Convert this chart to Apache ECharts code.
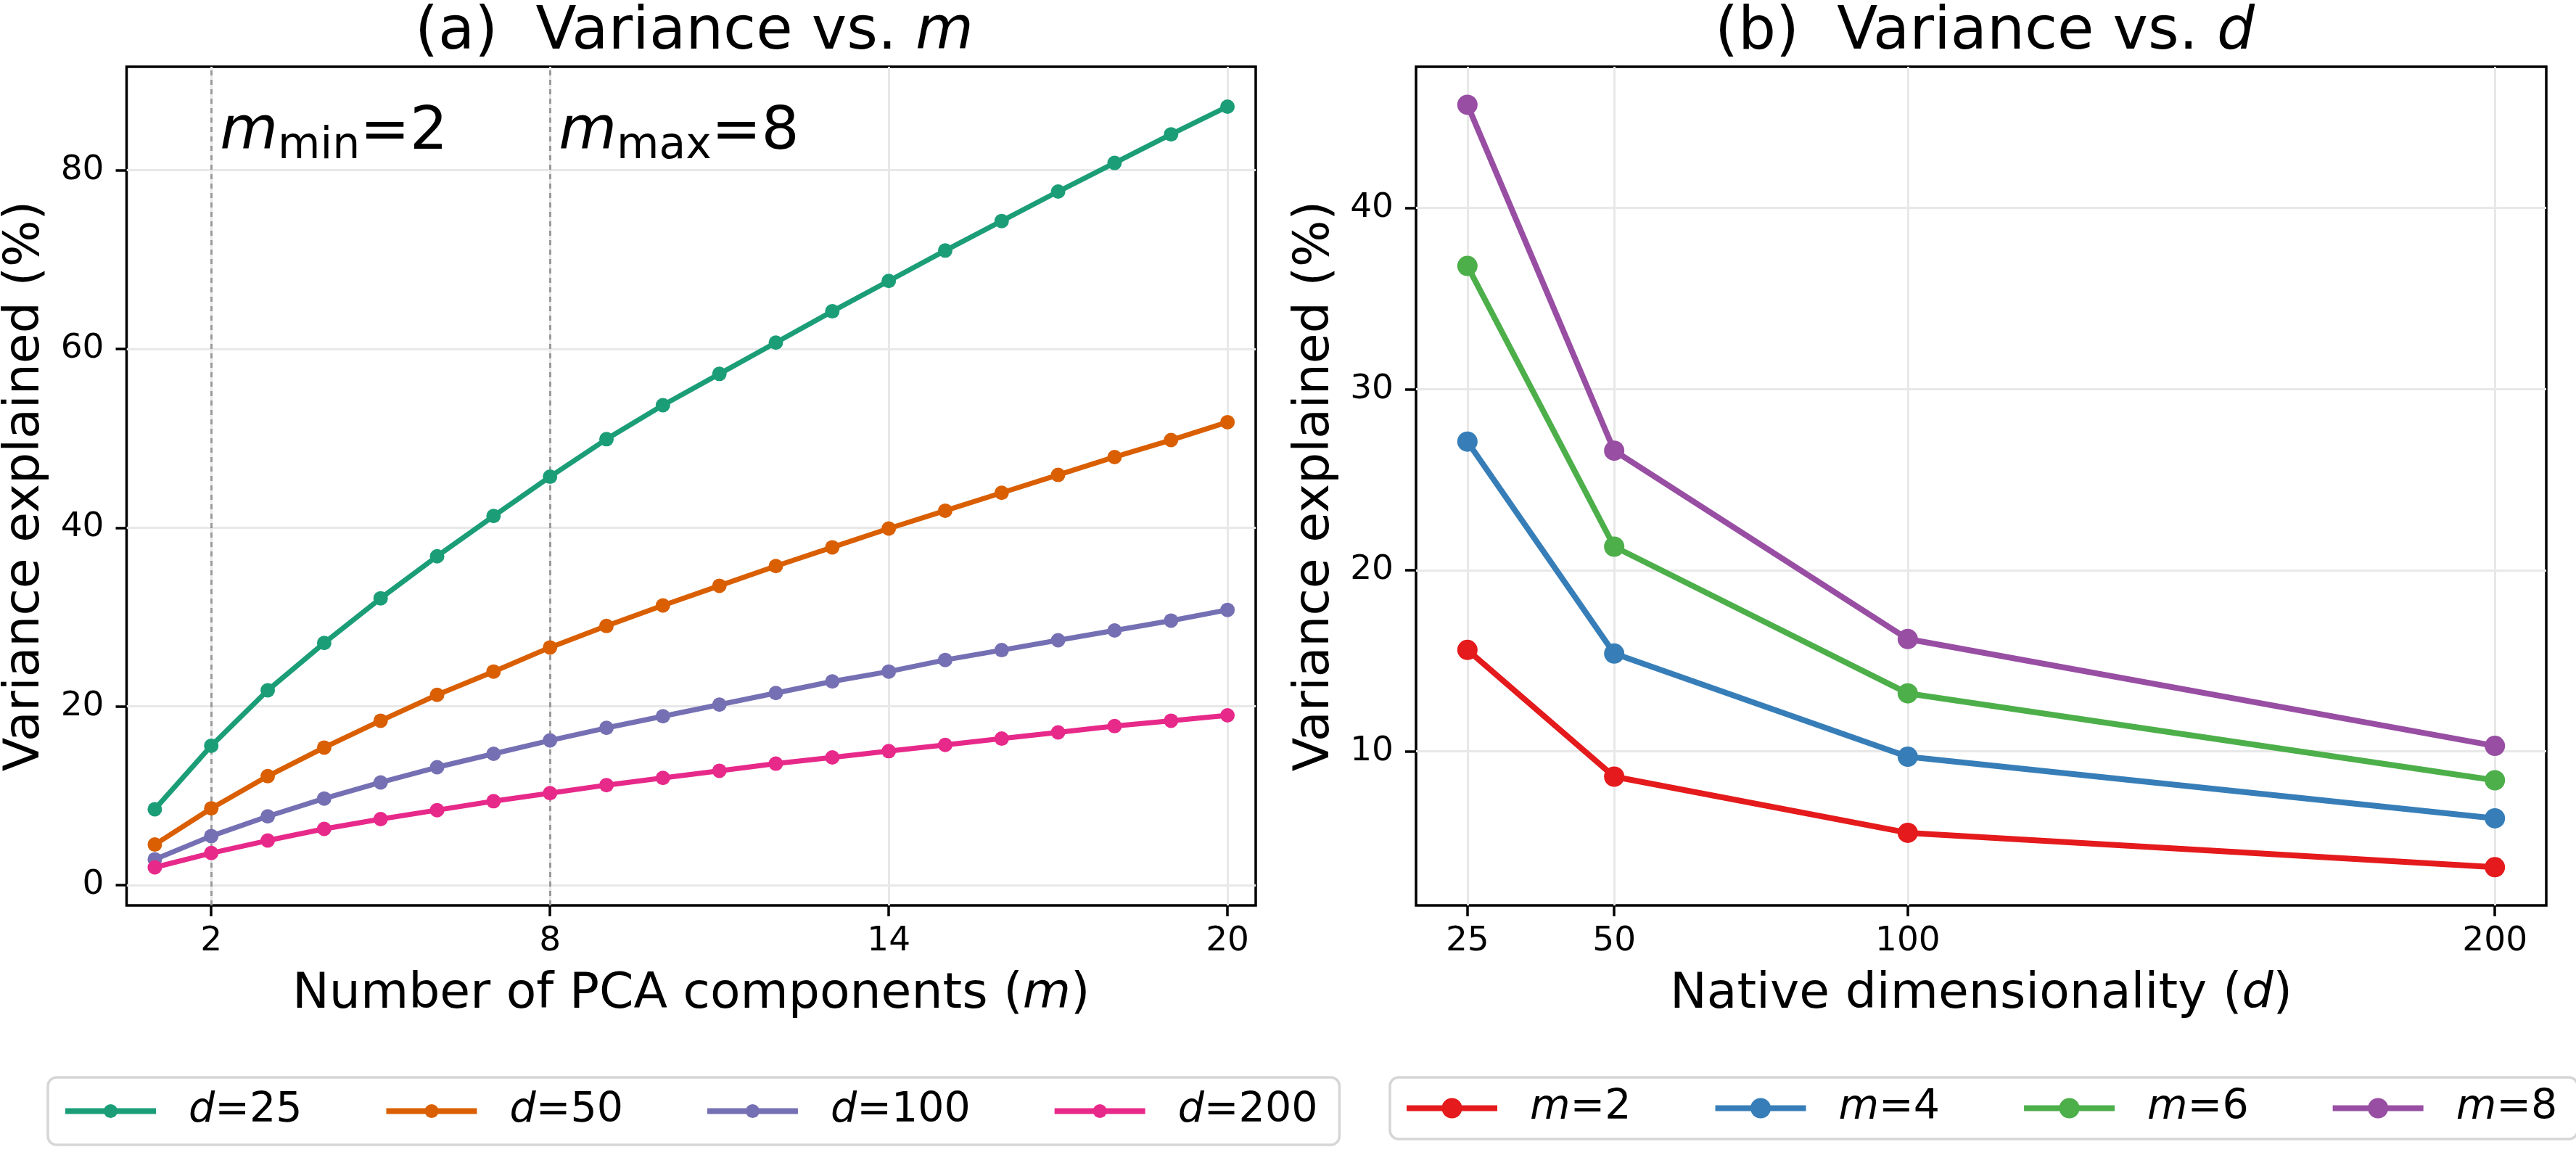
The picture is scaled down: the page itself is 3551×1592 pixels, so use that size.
<!DOCTYPE html>
<html>
<head>
<meta charset="utf-8">
<script src="https://cdn.jsdelivr.net/npm/echarts@6/dist/echarts.min.js"></script>
<style>
  html, body { margin: 0; padding: 0; background: #fff; }
  #main { width: 3551px; height: 1592px; }
</style>
</head>
<body>
<div id="main"></div>
<script>
  // ---- data ----
  var mValues = [1, 2, 3, 4, 5, 6, 7, 8, 9, 10, 11, 12, 13, 14, 15, 16, 17, 18, 19, 20];
  var dValues = [25, 50, 100, 200];
  var varD25  = [8.5, 15.6, 21.8, 27.1, 32.1, 36.8, 41.3, 45.7, 49.9, 53.7, 57.2, 60.7, 64.2, 67.6, 71.0, 74.3, 77.6, 80.8, 84.0, 87.1];
  var varD50  = [4.55, 8.6, 12.2, 15.4, 18.4, 21.3, 23.9, 26.6, 29.0, 31.3, 33.5, 35.7, 37.8, 39.9, 41.9, 43.9, 45.9, 47.9, 49.8, 51.8];
  var varD100 = [2.9, 5.5, 7.7, 9.7, 11.5, 13.2, 14.7, 16.2, 17.6, 18.9, 20.2, 21.5, 22.8, 23.9, 25.2, 26.3, 27.4, 28.5, 29.6, 30.8];
  var varD200 = [2.0, 3.6, 5.0, 6.3, 7.4, 8.4, 9.4, 10.3, 11.2, 12.0, 12.8, 13.6, 14.3, 15.0, 15.7, 16.4, 17.1, 17.8, 18.4, 19.0];
  var mCurves = [2, 4, 6, 8];
  var mTicks = [2, 8, 14, 20];
  var dTicks = [25, 50, 100, 200];
  var yTicksA = [0, 20, 40, 60, 80];
  var yTicksB = [10, 20, 30, 40];
  var markM = [2, 8];            // m_min, m_max
  var markSub = ['min', 'max'];

  var FONT = 'DejaVu Sans';
  var colorsA = ['#1b9e77', '#d95f02', '#7570b3', '#e7298a'];
  var colorsB = ['#e41a1c', '#377eb8', '#4daf4a', '#984ea3'];
  var curvesA = [varD25, varD50, varD100, varD200];

  var dom = document.getElementById('main');
  var myChart = echarts.init(dom);

  function italicName(name) {
    var p = name.split('=');
    return '{i|' + p[0] + '}=' + p[1];
  }

  var series = [];
  // (a) variance vs m, one line per d
  for (var i = 0; i < dValues.length; i++) {
    var pts = [];
    for (var k = 0; k < mValues.length; k++) {
      pts.push([mValues[k], curvesA[i][k]]);
    }
    var s = {
      name: 'd=' + dValues[i],
      type: 'line',
      xAxisIndex: 0,
      yAxisIndex: 0,
      data: pts,
      symbol: 'circle',
      symbolSize: 20,
      color: colorsA[i],
      lineStyle: { width: 7, color: colorsA[i] },
      itemStyle: { color: colorsA[i] },
      z: 5 + i
    };
    if (i == 0) {
      s.markLine = {
        silent: true,
        symbol: 'none',
        label: { show: false },
        lineStyle: { color: '#9a9a9a', width: 3, type: [7, 6] },
        data: markM.map(function (v) { return { xAxis: v }; }),
        z: 2
      };
    }
    series.push(s);
  }
  // m_min / m_max annotations
  series.push({
    name: 'anno',
    type: 'scatter',
    xAxisIndex: 0,
    yAxisIndex: 0,
    symbolSize: 0,
    silent: true,
    data: markM.map(function (v) { return [v, 83.8]; }),
    label: {
      show: true,
      position: 'right',
      distance: 12,
      color: '#000',
      opacity: 1,
      formatter: function (p) {
        var idx = p.dataIndex;
        return '{i|m}{s|' + markSub[idx] + '}{n|=' + markM[idx] + '}';
      },
      rich: {
        i: { fontSize: 82, fontStyle: 'italic', fontFamily: FONT, color: '#000', verticalAlign: 'bottom', padding: [0, 0, 7, 0] },
        s: { fontSize: 60, fontFamily: FONT, color: '#000', verticalAlign: 'bottom' },
        n: { fontSize: 82, fontFamily: FONT, color: '#000', verticalAlign: 'bottom', padding: [0, 0, 7, 0] }
      }
    },
    emphasis: { disabled: true }
  });
  // (b) variance vs d, one line per m
  for (var j = 0; j < mCurves.length; j++) {
    var pts2 = [];
    for (var q = 0; q < dValues.length; q++) {
      pts2.push([dValues[q], curvesA[q][mCurves[j] - 1]]);
    }
    series.push({
      name: 'm=' + mCurves[j],
      type: 'line',
      xAxisIndex: 1,
      yAxisIndex: 1,
      data: pts2,
      symbol: 'circle',
      symbolSize: 28,
      color: colorsB[j],
      lineStyle: { width: 8, color: colorsB[j] },
      itemStyle: { color: colorsB[j] },
      z: 5 + j
    });
  }

  var tickFont = { fontSize: 47, color: '#000', fontFamily: FONT };
  var nameFont = { fontSize: 68, color: '#000', fontFamily: FONT, rich: { i: { fontSize: 68, fontStyle: 'italic', fontFamily: FONT, color: '#000' } } };
  var gridLine = { show: true, lineStyle: { color: '#e8e8e8', width: 3 } };
  var tickStyle = { color: '#000', width: 3.5 };

  function xAx(grid, min, max, ticks, name) {
    return {
      type: 'value', gridIndex: grid, min: min, max: max,
      name: name, nameLocation: 'middle', nameGap: 89, nameTextStyle: nameFont,
      axisLine: { show: false, onZero: false },
      axisTick: { show: true, length: 15, lineStyle: tickStyle, customValues: ticks },
      axisLabel: Object.assign({ margin: 26, customValues: ticks }, tickFont),
      splitLine: gridLine
    };
  }
  function yAx(grid, min, max, ticks) {
    return {
      type: 'value', gridIndex: grid, min: min, max: max,
      name: 'Variance explained (%)', nameLocation: 'middle', nameGap: 105, nameTextStyle: nameFont,
      axisLine: { show: false, onZero: false },
      axisTick: { show: true, length: 15, lineStyle: tickStyle, customValues: ticks },
      axisLabel: Object.assign({ margin: 31, customValues: ticks }, tickFont),
      splitLine: gridLine
    };
  }

  function legendOf(left, names, h, gap, pad) {
    return {
      show: true,
      left: left,
      top: 1485,
      width: 1750,
      orient: 'horizontal',
      data: names,
      itemWidth: 125,
      itemHeight: h,
      itemGap: gap,
      padding: pad,
      borderColor: '#d6d6d6',
      borderWidth: 3.5,
      borderRadius: 12,
      backgroundColor: '#fff',
      lineStyle: { width: 8 },
      formatter: italicName,
      textStyle: {
        fontSize: 57, color: '#000', fontFamily: FONT, padding: [0, 0, 0, 40],
        rich: { i: { fontSize: 57, fontStyle: 'italic', fontFamily: FONT, color: '#000' } }
      }
    };
  }

  var option = {
    animation: false,
    backgroundColor: '#fff',
    textStyle: { fontFamily: FONT },
    title: [
      {
        text: '(a)  Variance vs. {i|m}', left: 952, top: 0, textAlign: 'center',
        textStyle: { fontSize: 82, fontWeight: 'normal', color: '#000', fontFamily: FONT,
          rich: { i: { fontSize: 82, fontStyle: 'italic', fontFamily: FONT, color: '#000' } } }
      },
      {
        text: '(b)  Variance vs. {i|d}', left: 2731, top: 0, textAlign: 'center',
        textStyle: { fontSize: 82, fontWeight: 'normal', color: '#000', fontFamily: FONT,
          rich: { i: { fontSize: 82, fontStyle: 'italic', fontFamily: FONT, color: '#000' } } }
      }
    ],
    legend: [
      legendOf(66, dValues.map(function (d) { return 'd=' + d; }), 24, 112, [18, 30, 18, 20]),
      legendOf(1916, mCurves.map(function (m) { return 'm=' + m; }), 35, 112, [14, 28, 14, 19])
    ],
    grid: [
      { left: 174.5, right: 1820, top: 92, bottom: 344, show: true, borderColor: '#000', borderWidth: 3.5, backgroundColor: 'rgba(0,0,0,0)' },
      { left: 1952, right: 41, top: 92, bottom: 344, show: true, borderColor: '#000', borderWidth: 3.5, backgroundColor: 'rgba(0,0,0,0)' }
    ],
    xAxis: [
      xAx(0, 0.5, 20.5, mTicks, 'Number of PCA components ({i|m})'),
      xAx(1, 16.25, 208.75, dTicks, 'Native dimensionality ({i|d})')
    ],
    yAxis: [
      yAx(0, -2.26, 91.56, yTicksA),
      yAx(1, 1.49, 47.8, yTicksB)
    ],
    series: series
  };

  if (option && typeof option === "object") {
    myChart.setOption(option, true);
  }
</script>
</body>
</html>
